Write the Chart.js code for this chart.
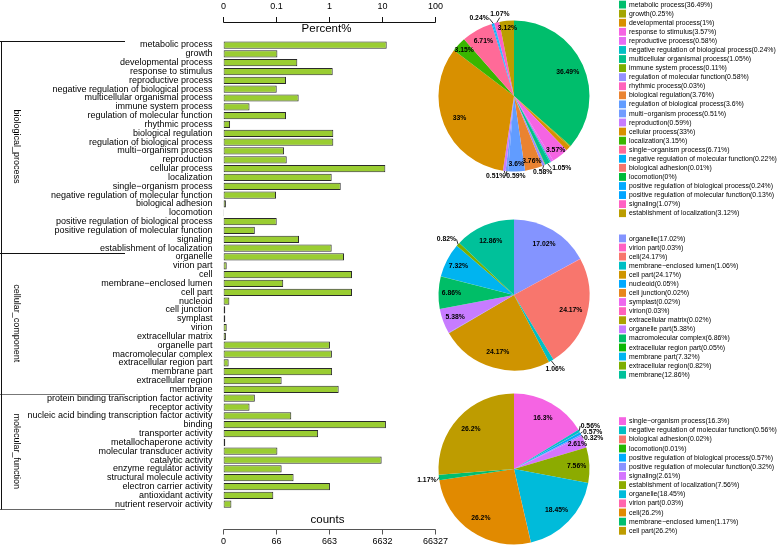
<!DOCTYPE html>
<html><head><meta charset="utf-8">
<script src="https://cdn.jsdelivr.net/npm/chart.js@4/dist/chart.umd.min.js"></script>
<style>
html,body{margin:0;padding:0;background:#fff;}
#wrap{position:relative;width:778px;height:546px;overflow:hidden;background:#fff;}
canvas{position:absolute;}
</style></head><body>
<div id="wrap">
<canvas id="bars" width="778" height="546" style="left:0;top:0;width:778px;height:546px"></canvas>
<canvas id="pie1" width="200" height="200" style="left:414px;top:-4.5px;width:200px;height:200px"></canvas>
<canvas id="pie2" width="200" height="200" style="left:414px;top:195px;width:200px;height:200px"></canvas>
<canvas id="pie3" width="200" height="200" style="left:414px;top:369px;width:200px;height:200px"></canvas>
</div>
<script>
const FONT = "'Liberation Sans', Arial, Helvetica, sans-serif";

// ---------- data ----------
const groupNames = ['biological_process', 'cellular_component', 'molecular_function'];

const bpTerms = ['metabolic process','growth','developmental process','response to stimulus','reproductive process','negative regulation of biological process','multicellular organismal process','immune system process','regulation of molecular function','rhythmic process','biological regulation','regulation of biological process','multi\u2212organism process','reproduction','cellular process','localization','single\u2212organism process','negative regulation of molecular function','biological adhesion','locomotion','positive regulation of biological process','positive regulation of molecular function','signaling','establishment of localization'];
const bpPercent = [12.0, 0.094, 0.237, 1.14, 0.141, 0.091, 0.252, 0.021, 0.141, 0.0033, 1.17, 1.17, 0.129, 0.146, 11.3, 1.09, 1.62, 0.088, 0.0011, 0.0002, 0.091, 0.029, 0.256, 1.09];

const ccTerms = ['organelle','virion part','cell','membrane\u2212enclosed lumen','cell part','nucleoid','cell junction','symplast','virion','extracellular matrix','organelle part','macromolecular complex','extracellular region part','membrane part','extracellular region','membrane'];
const ccPercent = [1.87, 0.0015, 2.65, 0.124, 2.65, 0.0029, 0.0008, 0.0008, 0.0015, 0.0011, 1.01, 1.10, 0.0025, 1.11, 0.115, 1.48];

const mfTerms = ['protein binding transcription factor activity','receptor activity','nucleic acid binding transcription factor activity','binding','transporter activity','metallochaperone activity','molecular transducer activity','catalytic activity','enzyme regulator activity','structural molecule activity','electron carrier activity','antioxidant activity','nutrient reservoir activity'];
const mfPercent = [0.029, 0.021, 0.18, 11.6, 0.60, 0.0008, 0.094, 9.63, 0.115, 0.20, 1.01, 0.077, 0.0041];

const percentTicks = ['0', '0.1', '1', '10', '100'];
const countTicks = ['0', '66', '663', '6632', '66327'];

const pie1Terms = bpTerms;
const pie1Values = [36.49, 0.25, 1, 3.57, 0.58, 0.24, 1.05, 0.11, 0.58, 0.03, 3.76, 3.6, 0.51, 0.59, 33, 3.15, 6.71, 0.22, 0.01, 0, 0.24, 0.13, 1.07, 3.12];

const pie2Terms = ccTerms;
const pie2Values = [17.02, 0.03, 24.17, 1.06, 24.17, 0.05, 0.02, 0.02, 0.03, 0.02, 5.38, 6.86, 0.05, 7.32, 0.82, 12.86];

const pie3Terms = ['single\u2212organism process','negative regulation of molecular function','biological adhesion','locomotion','positive regulation of biological process','positive regulation of molecular function','signaling','establishment of localization','organelle','virion part','cell','membrane\u2212enclosed lumen','cell part'];
const pie3Values = [16.3, 0.56, 0.02, 0.01, 0.57, 0.32, 2.61, 7.56, 18.45, 0.03, 26.2, 1.17, 26.2];

// ---------- styles ----------
const pie1Colors = ['#00BE6C','#A3A500','#D89000','#F564E3','#E76BF3','#00BFC4','#00C08B','#7CAE00','#9590FF','#FF62BC','#EA8331','#619CFF','#729CFF','#C77CFF','#D89000','#39B600','#FF6A98','#00B0F6','#F8766D','#00BA38','#00A9FF','#00A5FF','#FF61C3','#BB9D00'];
const pie2Colors = ['#8494FF','#FF61C3','#F8766D','#00BFC4','#CF9400','#00A9FF','#E7861B','#ED68ED','#FF62BC','#ABA300','#C77CFF','#00BE67','#0CB702','#00B4F0','#7CAE00','#00C19A'];
const pie3Colors = ['#F564E3','#00BFC4','#F8766D','#24B700','#00ACFC','#8B93FF','#D575FE','#8CAB00','#00BBDA','#FF65AC','#E18A00','#00BE70','#BE9C00'];

const pie1Style = {inside:[0,3,10,11,14,15,16,23], outside:{6:[4,5,'left'],8:[-1,3.5,'center'],12:[-1,5,'right'],13:[1.5,5,'left'],20:[-4,-5,'right'],22:[3,-5,'center']}};
const pie2Style = {inside:[0,2,4,10,11,13,15], outside:{3:[4,5,'center'],14:[-1.5,-5,'right']}};
const pie3Style = {inside:[0,6,7,8,10,12], outside:{1:[1,-5,'left'],4:[2,-1.5,'left'],5:[2,3,'left'],11:[-2,3,'right']}};

// ---------- bar chart ----------
const allTerms = [...bpTerms, ...ccTerms, ...mfTerms];
const allPercent = [...bpPercent, ...ccPercent, ...mfPercent];
const groupSizes = [bpTerms.length, ccTerms.length, mfTerms.length];
const toScale = p => Math.log10(100 * p + 1);

function line(ctx, x1, y1, x2, y2) { ctx.beginPath(); ctx.moveTo(x1, y1); ctx.lineTo(x2, y2); ctx.stroke(); }

function drawLegend(ctx, names, vals, colors, y0, step) {
  ctx.font = '6.9px ' + FONT;
  ctx.textAlign = 'left';
  ctx.textBaseline = 'middle';
  names.forEach((n, i) => {
    const y = y0 + i * step;
    ctx.fillStyle = colors[i];
    ctx.fillRect(619, y - 3.8, 7, 7.8);
    ctx.fillStyle = '#000';
    ctx.fillText(n + '(' + vals[i] + '%)', 629, y + 0.3);
  });
}

const decor = {
  id: 'decor',
  afterDraw(chart) {
    const ctx = chart.ctx, xs = chart.scales.x, ys = chart.scales.y;
    const x0 = xs.getPixelForValue(0), x4 = xs.getPixelForValue(4);
    ctx.save();
    ctx.lineWidth = 1;
    // top axis
    ctx.strokeStyle = '#111';
    const topY = 22.5;
    line(ctx, x0, topY, x4, topY);
    ctx.fillStyle = '#000';
    ctx.font = '9px ' + FONT;
    ctx.textAlign = 'center'; ctx.textBaseline = 'middle';
    percentTicks.forEach((t, i) => {
      const px = Math.round(xs.getPixelForValue(i) - 0.5) + 0.5;
      line(ctx, px, topY, px, topY - 5.5);
      ctx.fillText(t, px, 7);
    });
    ctx.font = '11.5px ' + FONT;
    ctx.fillText('Percent%', xs.getPixelForValue(2) - 3, 28.5);
    // bottom axis
    ctx.strokeStyle = '#555';
    const botY = 529.5;
    line(ctx, x0, botY, x4, botY);
    ctx.font = '9px ' + FONT;
    countTicks.forEach((t, i) => {
      const px = Math.round(xs.getPixelForValue(i) - 0.5) + 0.5;
      line(ctx, px, botY, px, botY + 5);
      ctx.fillText(t, px, 542);
    });
    ctx.font = '11.5px ' + FONT;
    ctx.fillText('counts', xs.getPixelForValue(2) - 2, 520);
    // group brackets
    const h = ys.getPixelForValue(1) - ys.getPixelForValue(0);
    const first = ys.getPixelForValue(0) - h / 2;
    let idx = 0;
    const bounds = [first];
    groupSizes.forEach(s => { idx += s; bounds.push(first + idx * h); });
    const bcol = ['#111', '#111', '#777', '#666'];
    bounds.forEach((b, i) => {
      ctx.strokeStyle = bcol[i];
      const yy = Math.round(b) + 0.5;
      line(ctx, 0, yy, 125, yy);
    });
    ctx.strokeStyle = '#111';
    line(ctx, 1.5, Math.round(bounds[0]) + 0.5, 1.5, Math.round(bounds[3]) + 0.5);
    ctx.font = '9px ' + FONT;
    ctx.fillStyle = '#000';
    groupNames.forEach((g, i) => {
      const cy = (bounds[i] + bounds[i + 1]) / 2;
      ctx.save();
      ctx.translate(16, cy);
      ctx.rotate(Math.PI / 2);
      ctx.textAlign = 'center'; ctx.textBaseline = 'middle';
      ctx.fillText(g, 0, 0);
      ctx.restore();
    });
    // legends
    drawLegend(ctx, pie1Terms, pie1Values, pie1Colors, 4.5, 9.07);
    drawLegend(ctx, pie2Terms, pie2Values, pie2Colors, 238.3, 9.09);
    drawLegend(ctx, pie3Terms, pie3Values, pie3Colors, 421, 9.14);
    ctx.restore();
  }
};

new Chart(document.getElementById('bars'), {
  type: 'bar',
  data: {
    labels: allTerms,
    datasets: [{
      data: allPercent.map(toScale),
      backgroundColor: '#9ACD32',
      borderColor: '#2a2a2a',
      borderWidth: 1,
      borderSkipped: false,
      barPercentage: 0.82,
      categoryPercentage: 1
    }]
  },
  options: {
    indexAxis: 'y',
    responsive: false,
    animation: false,
    devicePixelRatio: 1,
    layout: { padding: { left: 0, right: 778 - 435.5, top: 40.6, bottom: 546 - 508.6 } },
    plugins: { legend: { display: false }, tooltip: { enabled: false } },
    scales: {
      x: { type: 'linear', min: 0, max: 4, display: false },
      y: {
        type: 'category',
        grid: { display: false, drawTicks: false },
        border: { display: false },
        ticks: { autoSkip: false, padding: 11, color: '#000', font: { size: 9, family: FONT } },
        afterFit(s) { s.width = 223.5; }
      }
    }
  },
  plugins: [decor]
});

// ---------- pies ----------
function makePieLabels(style) {
  return {
    id: 'pieLabels',
    afterDatasetsDraw(chart) {
      const ctx = chart.ctx;
      const meta = chart.getDatasetMeta(0);
      const vals = chart.data.datasets[0].data;
      ctx.save();
      ctx.font = 'bold 6.8px ' + FONT;
      ctx.fillStyle = '#000';
      ctx.strokeStyle = '#000';
      ctx.lineWidth = 0.8;
      ctx.textBaseline = 'middle';
      meta.data.forEach((arc, i) => {
        const p = arc.getProps(['x', 'y', 'startAngle', 'endAngle', 'outerRadius'], true);
        const mid = (p.startAngle + p.endAngle) / 2;
        const txt = vals[i] + '%';
        if (style.inside.includes(i)) {
          const f = vals[i] >= 10 ? 0.78 : (vals[i] >= 5 ? 0.83 : 0.9);
          ctx.textAlign = 'center';
          ctx.fillText(txt, p.x + Math.cos(mid) * p.outerRadius * f, p.y + Math.sin(mid) * p.outerRadius * f);
        } else if (style.outside[i]) {
          const [dx, dy, al] = style.outside[i];
          const ex = p.x + Math.cos(mid) * p.outerRadius;
          const ey = p.y + Math.sin(mid) * p.outerRadius;
          line(ctx, ex, ey, ex + dx, ey + dy);
          ctx.textAlign = al;
          let ty = ey + dy;
          if (al === 'center') ty += dy > 0 ? 3.5 : -3.5;
          const tx = ex + dx + (al === 'left' ? 0.5 : al === 'right' ? -0.5 : 0);
          ctx.fillText(txt, tx, ty);
        }
      });
      ctx.restore();
    }
  };
}

function makePie(id, terms, values, colors, style) {
  new Chart(document.getElementById(id), {
    type: 'pie',
    data: { labels: terms, datasets: [{ data: values, backgroundColor: colors, borderWidth: 0 }] },
    options: {
      responsive: false,
      animation: false,
      devicePixelRatio: 1,
      layout: { padding: 24.5 },
      plugins: { legend: { display: false }, tooltip: { enabled: false } }
    },
    plugins: [makePieLabels(style)]
  });
}

makePie('pie1', pie1Terms, pie1Values, pie1Colors, pie1Style);
makePie('pie2', pie2Terms, pie2Values, pie2Colors, pie2Style);
makePie('pie3', pie3Terms, pie3Values, pie3Colors, pie3Style);
</script>
</body></html>
